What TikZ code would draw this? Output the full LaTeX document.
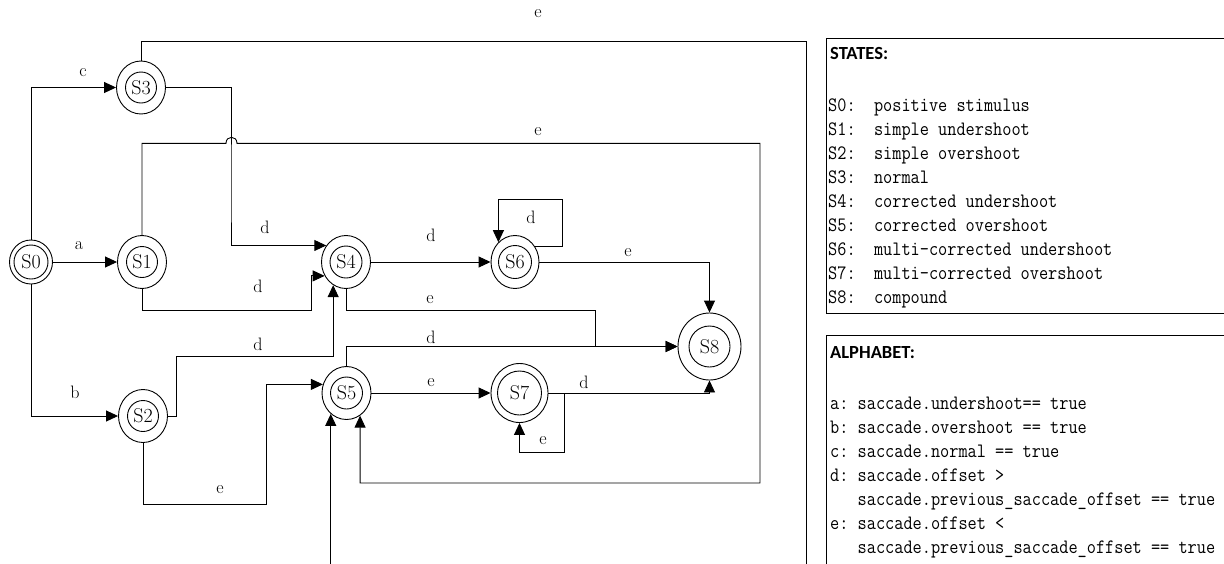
\documentclass[tikz,border=0pt]{standalone}
\usepackage{fontspec}
\usepackage{graphicx}
\newfontfamily\titlefont{Carlito}
\usetikzlibrary{arrows.meta,shapes.geometric}
\newcommand\tallmono[1]{\scalebox{1}[1.15]{#1}}
\tikzset{
  stateouter/.style={ellipse, draw, line width=0.9pt, inner sep=0pt},
  stateinner/.style={circle, draw, line width=0.9pt, inner sep=0pt,
                     font=\fontsize{20}{20}\selectfont},
  edgelabel/.style={inner sep=0pt, font=\fontsize{18}{18}\selectfont},
  trans/.style={line width=0.9pt, -{Triangle[length=12pt,width=11pt]}},
  legendbox/.style={draw, line width=0.9pt},
  legendtitle/.style={anchor=west, inner sep=0pt,
                      font=\titlefont\bfseries\fontsize{18.5}{18.5}\selectfont},
  legendline/.style={anchor=base west, inner sep=0pt,
                     font=\ttfamily\frenchspacing\fontsize{17.8}{17.8}\selectfont}
}

\begin{document}
\begin{tikzpicture}[x=1pt, y=-1pt]
  \useasboundingbox (0,0) rectangle (1224,563);
  \clip (0,0) rectangle (1224,563);

  \foreach \n/\x/\y/\w/\h/\d in {S0/31/262/43/44/34, S1/142/262/49/53/31,
      S2/143/416/49/53/31, S3/141/87.5/49/53/31, S4/346/262/49/53/32,
      S5/346.5/393/49/53/32, S6/515/262/48/53/33, S7/519.5/393/57/59/44,
      S8/709.5/346.5/63/67/41} {
    \node[stateouter, minimum width=\w pt, minimum height=\h pt] (\n) at (\x,\y) {};
    \node[stateinner, minimum size=\d pt] (\n-in) at (\n) {\n};
  }

  \draw[trans] (S0.north) |- (S3.west);
  \draw[trans] (S0) -- (S1);
  \draw[trans] (S0.south) |- (S2.west);
  \draw[trans] (S3.east) -| (231,200) |- (S4.140);
  \draw[trans] (S3.north) |- (806,41.7) -- (806,580) -| (S5.233);
  \draw[trans] (S1.north) |- (226,143.3) .. controls (226,135.3) and (237,135.3) .. (237,143.3)
               -| (760,483) -| (S5.301);
  \draw[trans] (S1.south) |- (311,310) |- (S4.213);
  \draw[trans] (S2.east) -| (176,356.7) -| (S4.241);
  \draw[trans] (S2.south) |- (266,504) |- (S5.160);
  \draw[trans] (S4) -- (S6);
  \draw[trans] (S6.38) -| (562,199) -| (S6.130);
  \draw[trans] (S6.east) -| (S8.north);
  \draw[trans] (S4.south) |- (595,310) |- (S8.west);
  \draw[trans] (S5.north) |- (S8.west);
  \draw[trans] (S5) -- (S7);
  \draw[trans] (S7.east) -| (S8.south);
  \draw[trans] (S7.east) -| (564,452.7) -| (S7.south);

  \foreach \t/\x/\y [count=\i] in {e/538/14, c/83/73, e/538/131.7, d/265/227,
      a/79/246, d/431/235, d/531/217, e/628/253, d/258/286, e/430/300,
      d/258/344, d/431/337, e/431/383, b/75/392, d/584/382, e/543/441, e/220/490}
    \node[edgelabel] (lab\i) at (\x,\y) {\t};

  \draw[legendbox] (826,38) rectangle (1240,313);
  \node[legendtitle] (statestitle) at (830,53) {STATES:};
  \foreach \txt [count=\i from 0] in {positive stimulus, simple undershoot,
      simple overshoot, normal, corrected undershoot, corrected overshoot,
      multi-corrected undershoot, multi-corrected overshoot, compound}
    \node[legendline] (state\i) at (828,111.5+24*\i) {\tallmono{S\i:\ \ \txt}};

  \draw[legendbox] (826,335) rectangle (1240,580);
  \node[legendtitle] (alphatitle) at (830,353) {ALPHABET:};
  \foreach \txt [count=\i from 0] in {a: saccade.undershoot== true,
      b: saccade.overshoot == true, c: saccade.normal == true,
      d: saccade.offset >, \ \ \ saccade.previous\_saccade\_offset == true,
      e: saccade.offset <, \ \ \ saccade.previous\_saccade\_offset == true}
    \node[legendline] (alpha\i) at (830,409.5+24*\i) {\tallmono{\txt}};
\end{tikzpicture}
\end{document}
